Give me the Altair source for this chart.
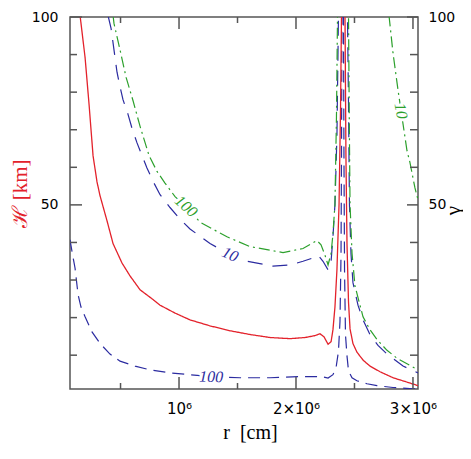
import altair as alt
import pandas as pd

# r in units of 10^6 cm ; values in km (H) / gamma-curves on same scale
red_r = [0.154, 0.197, 0.231, 0.265, 0.299, 0.325, 0.385, 0.436, 0.513, 0.581,
         0.667, 0.778, 0.838, 0.966, 1.094, 1.265, 1.436, 1.607, 1.778, 1.949,
         2.077, 2.162, 2.205, 2.239, 2.274, 2.300, 2.316, 2.333, 2.350, 2.368,
         2.381, 2.389, 2.404, 2.419, 2.427, 2.436, 2.449, 2.462, 2.487, 2.521,
         2.573, 2.632, 2.718, 2.829, 2.932, 3.043]
red_h = [100.4, 89.2, 76.7, 63.1, 56.1, 52.4, 45.7, 39.7, 34.5, 31.1,
         27.4, 24.8, 23.3, 21.2, 19.4, 17.8, 16.5, 15.5, 14.7, 14.4,
         14.7, 15.2, 15.7, 14.9, 12.9, 13.6, 16.8, 22.8, 32.7, 50.1,
         76.2, 100.4, 150, 100.4, 63.1, 39.7, 24.1, 17.0, 13.1, 10.8,
         8.7, 7.1, 5.6, 4.0, 3.0, 1.9]

blue10_r = [0.393, 0.419, 0.436, 0.453, 0.470, 0.496, 0.521, 0.564, 0.598, 0.641,
            0.684, 0.726, 0.786, 0.838, 0.923, 1.009, 1.094, 1.265, 1.436, 1.581,
            1.803, 1.949, 2.060, 2.137, 2.188, 2.231, 2.274, 2.300, 2.316, 2.333,
            2.350, 2.363, 2.400, 2.440, 2.449, 2.457, 2.470, 2.487, 2.530, 2.573,
            2.632, 2.701, 2.778, 2.915, 3.043]
blue10_v = [100.4, 97.0, 93.1, 89.2, 85.3, 81.4, 78.0, 74.1, 70.4, 66.5,
            63.1, 59.8, 55.8, 52.7, 49.3, 46.2, 43.6, 39.7, 36.8, 35.0,
            33.7, 34.0, 35.0, 35.8, 36.6, 35.0, 32.7, 35.0, 41.5, 50.1,
            68.3, 100.4, 150, 100.4, 76.7, 50.1, 37.1, 29.3, 23.3, 19.4,
            15.5, 12.6, 10.3, 7.1, 5.3]

blue100_r = [0.068, 0.085, 0.111, 0.137, 0.162, 0.197, 0.256, 0.325, 0.410, 0.496,
             0.624, 0.752, 0.923, 1.094, 1.274, 1.521, 1.778, 2.034, 2.222, 2.274,
             2.316, 2.342, 2.363, 2.376, 2.385, 2.389, 2.393, 2.400, 2.406, 2.410,
             2.415, 2.423, 2.436, 2.449, 2.479, 2.521, 2.607, 2.692, 2.829, 2.974,
             3.043]
blue100_v = [40.7, 37.6, 33.2, 26.1, 22.8, 20.2, 16.2, 13.1, 10.3, 8.4,
             7.1, 6.1, 5.3, 4.8, 4.3, 4.0, 4.0, 4.3, 4.3, 3.9,
             4.8, 6.6, 11.0, 18.9, 37.1, 63.1, 100.4, 150, 100.4, 63.1,
             32.7, 15.5, 9.8, 5.8, 4.0, 3.2, 2.4, 1.9, 1.4, 1.1,
             1.0]

green100_r = [0.436, 0.444, 0.496, 0.547, 0.607, 0.667, 0.744, 0.812, 0.880, 0.966,
              1.060, 1.179, 1.410, 1.607, 1.889, 2.060, 2.179, 2.214, 2.248, 2.274,
              2.300, 2.316, 2.333, 2.346, 2.355, 2.400, 2.449, 2.456, 2.462, 2.479,
              2.504, 2.547, 2.573, 2.632, 2.692, 2.778, 2.863, 2.949, 3.043]
green100_v = [100.4, 98.3, 91.2, 84.0, 77.7, 70.9, 63.1, 58.9, 55.8, 52.2,
              49.6, 45.4, 41.5, 38.9, 37.3, 38.4, 40.5, 39.4, 36.6, 34.0,
              37.1, 42.3, 50.1, 73.5, 100.4, 150, 100.4, 71.0, 50.1, 37.1,
              28.5, 23.3, 20.2, 16.8, 14.2, 11.3, 9.2, 7.7, 6.1]

green10_r = [2.795, 2.829, 2.872, 2.897, 2.949, 2.974, 3.017, 3.043]
green10_v = [100.4, 90.5, 80.6, 75.3, 64.4, 61.3, 54.5, 51.4]

label_text = ["100", "10", "100", "10"]
label_r = [1.274, 1.436, 1.060, 2.897]
label_v = [4.2, 36.8, 49.6, 75.0]
label_angle = [2, 25, 42, 80]

x_major = [1, 2, 3]
x_minor = [0.5, 1.5, 2.5]
y_major = [50, 100]
y_minor = [10, 20, 30, 40, 60, 70, 80, 90]

RED = "#e3222b"
BLUE = "#2b2ba0"
GREEN = "#2ca02c"
FRAME = "#555555"
label_color = [BLUE, BLUE, GREEN, GREEN]

W, H = 348, 372
xs = alt.Scale(domain=[0.068, 3.043], nice=False, zero=False)
ys = alt.Scale(domain=[1, 100], nice=False, zero=False)

x_axis = alt.Axis(
    values=x_major, orient="bottom",
    labelExpr="datum.value == 1 ? '10\u2076' : datum.value + '\u00d710\u2076'",
    ticks=False, tickSize=0, domain=False, grid=False,
    labelFont="DejaVu Sans", labelFontSize=15, labelColor="black",
    labelPadding=12, labelFlush=False,
    title="r\u00a0\u00a0[cm]", titleFont="Liberation Serif", titleFontSize=20,
    titleFontWeight="normal", titleColor="black",
    titleX=180, titleY=43, titleBaseline="middle", titleAlign="center",
)
yl_axis = alt.Axis(
    values=y_major, orient="left",
    ticks=False, tickSize=0, domain=False, grid=False,
    labelFont="DejaVu Sans", labelFontSize=14, labelColor="black", labelPadding=12,
    title="\u210b [km]", titleColor=RED,
    titleFont="Liberation Serif, DejaVu Serif, serif", titleFontSize=21,
    titleFontWeight="normal", titleAngle=270,
    titleX=-50, titleY=176, titleBaseline="middle", titleAlign="center",
)
yr_axis = alt.Axis(
    values=y_major, orient="right",
    ticks=False, tickSize=0, domain=False, grid=False,
    labelFont="DejaVu Sans", labelFontSize=14, labelColor="black", labelPadding=10,
    title="\u03b3", titleColor="black",
    titleFont="Liberation Serif, DejaVu Serif, serif", titleFontSize=21,
    titleFontWeight="normal", titleAngle=270,
    titleX=35, titleY=193, titleBaseline="middle", titleAlign="center",
)


def curve(rs, vs, color, dash, yaxis=None, width=1.2):
    df = pd.DataFrame({"r": rs, "v": vs, "i": list(range(len(rs)))})
    return alt.Chart(df).mark_line(
        clip=True, color=color, strokeDash=dash, strokeWidth=width
    ).encode(
        x=alt.X("r:Q", scale=xs, axis=x_axis),
        y=alt.Y("v:Q", scale=ys, axis=yaxis),
        order="i:Q",
    )


layers = [
    curve(blue100_r, blue100_v, BLUE, [12, 7], yaxis=yl_axis),
    curve(blue10_r, blue10_v, BLUE, [15, 10]),
    curve(green100_r, green100_v, GREEN, [11, 4, 2, 4]),
    curve(green10_r, green10_v, GREEN, [11, 4, 2, 4]),
    curve(red_r, red_h, RED, [1, 0], width=1.3),
]

lab = pd.DataFrame({"t": label_text, "r": label_r, "v": label_v,
                    "a": label_angle, "c": label_color})
lab_enc = dict(
    x=alt.X("r:Q", scale=xs, axis=x_axis),
    y=alt.Y("v:Q", scale=ys, axis=None),
    text="t:N",
    angle=alt.Angle("a:Q", scale=None),
)
layers.append(alt.Chart(lab).mark_text(
    font="Liberation Serif", fontSize=16, fontStyle="italic",
    fill="white", stroke="white", strokeWidth=6, strokeJoin="round",
    align="center", baseline="middle").encode(**lab_enc))
layers.append(alt.Chart(lab).mark_text(
    font="Liberation Serif", fontSize=16, fontStyle="italic",
    align="center", baseline="middle").encode(
    color=alt.Color("c:N", scale=None), **lab_enc))


def xticks(vals, length, top):
    df = pd.DataFrame({"t": vals})
    y0 = 0 if top else H
    y1 = length if top else H - length
    return alt.Chart(df).mark_rule(color=FRAME, strokeWidth=1.5).encode(
        x=alt.X("t:Q", scale=xs, axis=x_axis),
        y=alt.value(y0), y2=alt.value(y1))


def yticks(vals, length, right, axis=None):
    df = pd.DataFrame({"t": vals})
    x0 = W if right else 0
    x1 = W - length if right else length
    return alt.Chart(df).mark_rule(color=FRAME, strokeWidth=1.5).encode(
        y=alt.Y("t:Q", scale=ys, axis=axis),
        x=alt.value(x0), x2=alt.value(x1))


layers += [
    xticks(x_major, 12, False), xticks(x_minor, 6, False),
    xticks(x_major, 12, True), xticks(x_minor, 6, True),
    yticks(y_major, 12, False), yticks(y_minor, 7, False),
    yticks(y_major, 11, True, axis=yr_axis), yticks(y_minor, 8, True),
]

chart = alt.layer(*layers).properties(
    width=W, height=H,
    padding={"left": 62, "top": 9, "right": 45, "bottom": 60},
    autosize=alt.AutoSizeParams(type="none"),
).resolve_axis(y="independent").configure_view(stroke=FRAME, strokeWidth=1.5)

chart.save("out.html", embed_options={"renderer": "svg", "actions": False})
